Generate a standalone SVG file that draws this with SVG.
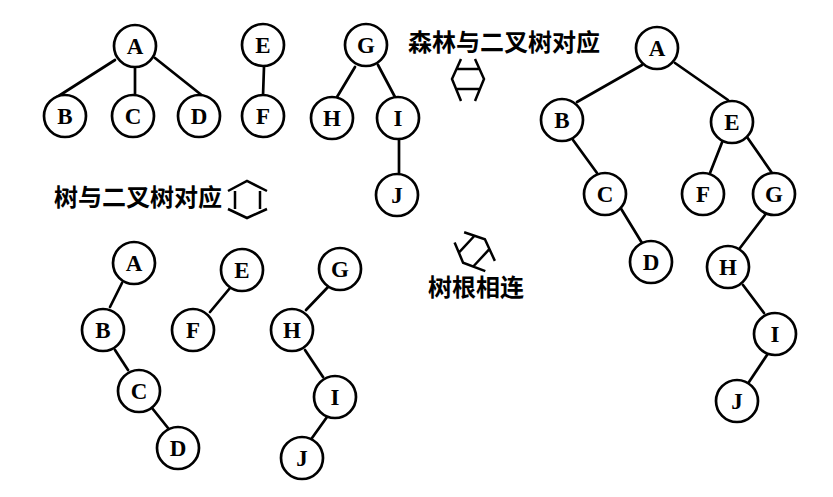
<svg xmlns="http://www.w3.org/2000/svg" width="833" height="497" viewBox="0 0 833 497">
<style>
.n circle{fill:#fff;stroke:#000;stroke-width:2.7}
.n text{font-family:"Liberation Serif","DejaVu Serif",serif;font-weight:bold;font-size:23px;text-anchor:middle;fill:#000}
.e line{stroke:#000;stroke-width:2.7;stroke-linecap:round}
.lbl{font-family:"Noto Sans CJK SC","Noto Sans CJK TC",sans-serif;font-weight:bold;font-size:24px;fill:#000}
.sym{fill:none;stroke:#000;stroke-width:2.5;stroke-linejoin:miter}
</style>
<defs>
<path id="dbl" d="M-7,-20 L-16,0 L-7,22 M7,-20 L16,0 L7,22 M-11.5,-10 L11.5,-10 M-11.5,10 L11.5,10"/>
</defs>
<rect width="833" height="497" fill="#fff"/>

<g id="connectors" class="e">
<!-- forest -->
<line x1="115" y1="60" x2="57" y2="97"/>
<line x1="135" y1="67" x2="135" y2="95"/>
<line x1="155" y1="58" x2="204" y2="97"/>
<line x1="264" y1="67" x2="263" y2="96"/>
<line x1="355" y1="67" x2="337" y2="97"/>
<line x1="378" y1="65" x2="395" y2="97"/>
<line x1="399" y1="140" x2="399" y2="173"/>
<!-- right binary tree -->
<line x1="642" y1="65" x2="577" y2="102"/>
<line x1="675" y1="63" x2="728" y2="100"/>
<line x1="573" y1="140" x2="597" y2="173"/>
<line x1="723" y1="140" x2="710" y2="173"/>
<line x1="747" y1="137" x2="772" y2="173"/>
<line x1="620" y1="207" x2="642" y2="243"/>
<line x1="765" y1="215" x2="740" y2="248"/>
<line x1="743" y1="285" x2="764" y2="313"/>
<line x1="767" y1="355" x2="749" y2="382"/>
<!-- bottom binary trees -->
<line x1="122" y1="283" x2="110" y2="307"/>
<line x1="115" y1="350" x2="128" y2="370"/>
<line x1="152" y1="408" x2="168" y2="428"/>
<line x1="230" y1="288" x2="210" y2="312"/>
<line x1="328" y1="287" x2="306" y2="310"/>
<line x1="305" y1="350" x2="323" y2="377"/>
<line x1="327" y1="417" x2="312" y2="438"/>
</g>

<!-- top-left forest -->
<g id="t1-A" class="n"><circle cx="135" cy="46" r="21"/><text x="135" y="54">A</text></g>
<g id="t1-B" class="n"><circle cx="65" cy="116" r="21"/><text x="65" y="124">B</text></g>
<g id="t1-C" class="n"><circle cx="133" cy="116" r="21"/><text x="133" y="124">C</text></g>
<g id="t1-D" class="n"><circle cx="199" cy="116" r="21"/><text x="199" y="124">D</text></g>
<g id="t1-E" class="n"><circle cx="263" cy="45" r="21"/><text x="263" y="53">E</text></g>
<g id="t1-F" class="n"><circle cx="263" cy="116" r="21"/><text x="263" y="124">F</text></g>
<g id="t1-G" class="n"><circle cx="366" cy="45" r="21"/><text x="366" y="53">G</text></g>
<g id="t1-H" class="n"><circle cx="332" cy="118" r="21"/><text x="332" y="126">H</text></g>
<g id="t1-I" class="n"><circle cx="398" cy="118" r="21"/><text x="398" y="126">I</text></g>
<g id="t1-J" class="n"><circle cx="397" cy="195" r="21"/><text x="397" y="203">J</text></g>

<!-- right binary tree -->
<g id="t2-A" class="n"><circle cx="657" cy="48" r="21"/><text x="657" y="56">A</text></g>
<g id="t2-B" class="n"><circle cx="562" cy="120" r="21"/><text x="562" y="128">B</text></g>
<g id="t2-E" class="n"><circle cx="732" cy="122" r="21"/><text x="732" y="130">E</text></g>
<g id="t2-C" class="n"><circle cx="605" cy="194" r="21"/><text x="605" y="202">C</text></g>
<g id="t2-F" class="n"><circle cx="703" cy="194" r="21"/><text x="703" y="202">F</text></g>
<g id="t2-G" class="n"><circle cx="774" cy="194" r="21"/><text x="774" y="202">G</text></g>
<g id="t2-D" class="n"><circle cx="651" cy="262" r="21"/><text x="651" y="270">D</text></g>
<g id="t2-H" class="n"><circle cx="728" cy="267" r="21"/><text x="728" y="275">H</text></g>
<g id="t2-I" class="n"><circle cx="775" cy="334" r="21"/><text x="775" y="342">I</text></g>
<g id="t2-J" class="n"><circle cx="737" cy="401" r="21"/><text x="737" y="409">J</text></g>

<!-- bottom binary trees -->
<g id="t3-A" class="n"><circle cx="134" cy="263" r="21"/><text x="134" y="271">A</text></g>
<g id="t3-B" class="n"><circle cx="103" cy="330" r="21"/><text x="103" y="338">B</text></g>
<g id="t3-C" class="n"><circle cx="139" cy="391" r="21"/><text x="139" y="399">C</text></g>
<g id="t3-D" class="n"><circle cx="178" cy="448" r="21"/><text x="178" y="456">D</text></g>
<g id="t3-E" class="n"><circle cx="242" cy="270" r="21"/><text x="242" y="278">E</text></g>
<g id="t3-F" class="n"><circle cx="193" cy="330" r="21"/><text x="193" y="338">F</text></g>
<g id="t3-G" class="n"><circle cx="340" cy="269" r="21"/><text x="340" y="277">G</text></g>
<g id="t3-H" class="n"><circle cx="292" cy="330" r="21"/><text x="292" y="338">H</text></g>
<g id="t3-I" class="n"><circle cx="335" cy="397" r="21"/><text x="335" y="405">I</text></g>
<g id="t3-J" class="n"><circle cx="302" cy="458" r="21"/><text x="302" y="466">J</text></g>

<!-- labels and equivalence symbols -->
<g id="label-forest">
<text class="lbl" x="408" y="51">森林与二叉树对应</text>
<use href="#dbl" class="sym" transform="translate(468,79)"/>
</g>
<g id="label-tree">
<text class="lbl" x="54" y="206">树与二叉树对应</text>
<path class="sym" d="M228,191 L247,181 L267,191 M228,209 L247,218 L267,209 M235,191 L235,209 M260,191 L260,209"/>
</g>
<g id="label-root">
<use href="#dbl" class="sym" transform="translate(474,251) rotate(-47)"/>
<text class="lbl" x="428" y="296">树根相连</text>
</g>
</svg>
